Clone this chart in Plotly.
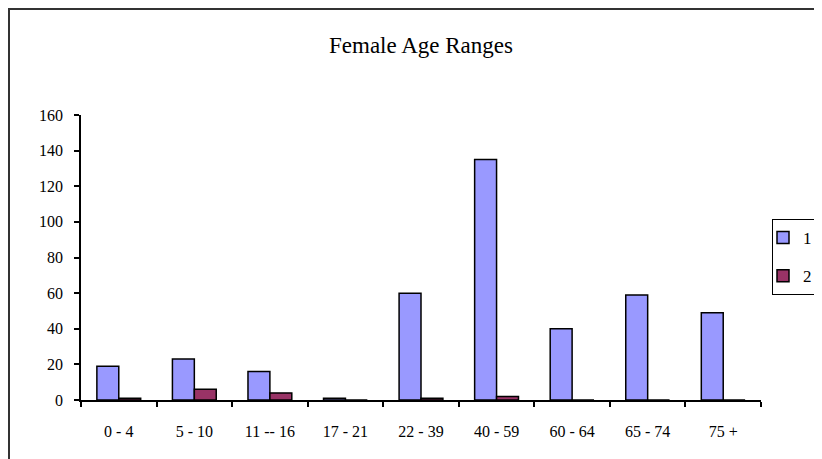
import plotly.graph_objects as go

categories = ["0 - 4", "5 - 10", "11 -- 16", "17 - 21", "22 - 39", "40 - 59", "60 - 64", "65 - 74", "75 +"]
series_1 = [19, 23, 16, 1, 60, 135, 40, 59, 49]
series_2 = [1, 6, 4, 0, 1, 2, 0, 0, 0]
series_names = ["1", "2"]
title_text = "Female Age Ranges"

OFF = 8  # page body offset
W, H = 822 - OFF, 459 - OFF
# target plot area in window pixels: x 81..761, y 115..400
L = 81 - OFF
T = 115 - OFF
R = W - (761 - OFF)
B = H - (400 - OFF)
pw = W - L - R
ph = H - T - B

def px_x(x):  # window px -> paper
    return (x - OFF - L) / pw

def px_y(y):
    return (H - B - (y - OFF)) / ph

fig = go.Figure()
fig.add_trace(go.Bar(x=categories, y=series_1, name=series_names[0], legendgroup="a",
                     marker=dict(color="#9999FF", line=dict(color="black", width=1.5))))
fig.add_trace(go.Bar(x=categories, y=series_2, name=series_names[1], legendgroup="b",
                     marker=dict(color="#993366", line=dict(color="black", width=1.5))))

fig.update_layout(
    width=W, height=H,
    margin=dict(l=L, r=R, t=T, b=B, autoexpand=False),
    paper_bgcolor="white", plot_bgcolor="white",
    barmode="group", bargap=0.42, bargroupgap=0,
    title=dict(text=title_text, x=px_x(421), xref="paper", xanchor="center",
               y=1 - (45 - OFF) / H, yanchor="middle",
               font=dict(family="Liberation Serif", size=23, color="black")),
    font=dict(family="Liberation Serif", color="black"),
    legend=dict(x=px_x(772), y=px_y(219), xanchor="left", yanchor="top",
                bordercolor="black", borderwidth=1, bgcolor="white",
                font=dict(family="Liberation Serif", size=17, color="black"),
                tracegroupgap=13, itemwidth=30, indentation=-10),
    showlegend=True,
)
fig.update_xaxes(showline=True, linecolor="black", linewidth=1.5, ticks="outside",
                 tickson="boundaries", ticklen=5, tickcolor="black", tickwidth=1.5,
                 showgrid=False, tickfont=dict(family="Liberation Serif", size=16),
                 ticklabelstandoff=16)
fig.update_yaxes(range=[0, 160], dtick=20, showline=True, linecolor="black", linewidth=1.5,
                 ticks="outside", ticklen=5, tickcolor="black", tickwidth=1.5,
                 showgrid=False, zeroline=False,
                 tickfont=dict(family="Liberation Serif", size=16), ticklabelstandoff=8)

fig.add_shape(type="rect", xref="paper", yref="paper",
              x0=px_x(9), x1=px_x(900), y0=px_y(560), y1=px_y(9),
              line=dict(color="#333333", width=2), layer="below")

fig.write_html("out.html")
